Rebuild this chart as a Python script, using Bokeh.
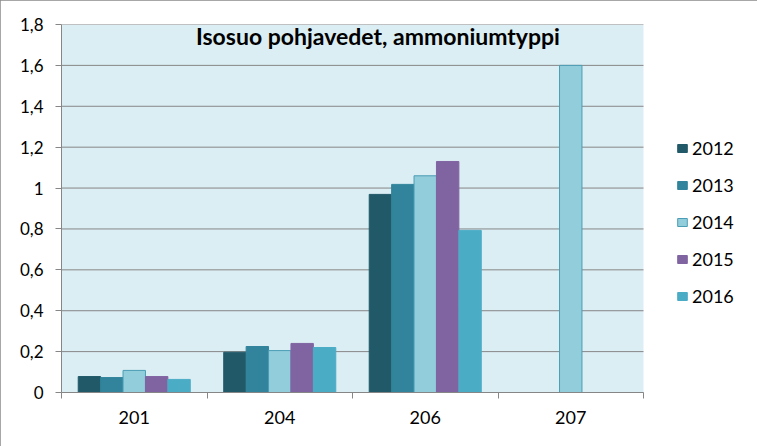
from bokeh.plotting import figure
from bokeh.models import (ColumnDataSource, Range1d, FixedTicker, CustomJSTickFormatter,
                          Legend, LegendItem, Label, BoxAnnotation)
from bokeh.transform import dodge
from bokeh.embed import file_html
from bokeh.resources import INLINE

categories = ["201", "204", "206", "207"]
years = ["2012", "2013", "2014", "2015", "2016"]
nan = float("nan")
v2012 = [0.078, 0.197, 0.969, nan]
v2013 = [0.073, 0.225, 1.018, nan]
v2014 = [0.108, 0.205, 1.060, 1.600]
v2015 = [0.078, 0.240, 1.130, nan]
v2016 = [0.064, 0.220, 0.793, nan]
y_ticks = [0, 0.2, 0.4, 0.6, 0.8, 1.0, 1.2, 1.4, 1.6, 1.8]
title_text = "Isosuo pohjavedet, ammoniumtyppi"

colors = ["#215968", "#31849B", "#92CDDC", "#8064A2", "#4BACC6"]
lines = ["#215968", "#31849B", "#4A9DB5", "#8064A2", "#4BACC6"]
series = [v2012, v2013, v2014, v2015, v2016]

FONT = "Lato"
GRID = "#868686"

source = ColumnDataSource(dict(
    x=[i + 0.5 for i in range(len(categories))],
    **{y: s for y, s in zip(years, series)}
))

n = len(categories)
plot_px = 582.0       # pixel width of the category area
frame_px = 691.0      # frame extended to hold the legend
x_max = n * frame_px / plot_px

p = figure(width=757, height=446, output_backend="svg", toolbar_location=None,
           x_range=Range1d(0, x_max), y_range=Range1d(0, 1.8),
           min_border_left=61, min_border_right=5, min_border_top=24, min_border_bottom=54)
p.background_fill_color = "white"
p.border_fill_color = "white"
p.outline_line_color = None
p.styles = {"outline": "2px solid #8A8A8A", "outline-offset": "-2px"}

p.add_layout(BoxAnnotation(left=0, right=n, bottom=0, top=1.8, fill_color="#DBEEF4",
                           fill_alpha=1, line_color=None, level="underlay"))

# horizontal gridlines only across the category area
p.segment(x0=[0] * len(y_ticks), x1=[n] * len(y_ticks), y0=y_ticks, y1=y_ticks,
          line_color=GRID, line_width=1)

w = 0.154
renderers = []
for k, (yr, c, lc) in enumerate(zip(years, colors, lines)):
    r = p.vbar(x=dodge("x", (k - 2) * w, range=p.x_range), top=yr, width=w,
               source=source, fill_color=c, line_color=lc, line_width=1)
    renderers.append(r)

# x axis
p.xaxis.bounds = (0, n)
p.xaxis.ticker = FixedTicker(ticks=[i + 0.5 for i in range(n)],
                             minor_ticks=list(range(n + 1)))
p.xaxis.major_label_overrides = {i + 0.5: c for i, c in enumerate(categories)}
p.xaxis.major_tick_line_color = None
p.xaxis.minor_tick_line_color = GRID
p.xaxis.minor_tick_out = 6
p.xaxis.minor_tick_in = 0
p.xaxis.axis_line_color = GRID
p.xaxis.major_label_text_font = FONT
p.xaxis.major_label_text_font_size = "18px"
p.xaxis.major_label_text_color = "black"
p.xaxis.major_label_standoff = 12

# y axis
p.yaxis.ticker = FixedTicker(ticks=y_ticks)
p.yaxis.formatter = CustomJSTickFormatter(
    code="return tick.toFixed(1).replace('.', ',').replace(',0', '');")
p.yaxis.axis_line_color = GRID
p.yaxis.major_tick_line_color = GRID
p.yaxis.major_tick_out = 6
p.yaxis.major_tick_in = 0
p.yaxis.minor_tick_line_color = None
p.yaxis.major_label_text_font = FONT
p.yaxis.major_label_text_font_size = "17px"
p.yaxis.major_label_text_color = "black"
p.yaxis.major_label_standoff = 12

p.xgrid.grid_line_color = None
p.ygrid.grid_line_color = None

legend = Legend(items=[LegendItem(label=yr, renderers=[r]) for yr, r in zip(years, renderers)],
                location=(615, 85), orientation="vertical")
legend.background_fill_alpha = 0
legend.border_line_color = None
legend.padding = 0
legend.margin = 0
legend.spacing = 15
legend.label_height = 20
legend.glyph_height = 10
legend.glyph_width = 12
legend.label_standoff = 4
legend.label_text_font = FONT
legend.label_text_font_size = "18px"
legend.label_text_color = "black"
p.add_layout(legend, "center")

title = Label(x=2.175, y=1.745, text=title_text, text_align="center", text_baseline="middle",
              text_font=FONT, text_font_size="23px", text_font_style="bold", text_color="black")
p.add_layout(title)

open("out.html", "w").write(file_html(p, INLINE))
